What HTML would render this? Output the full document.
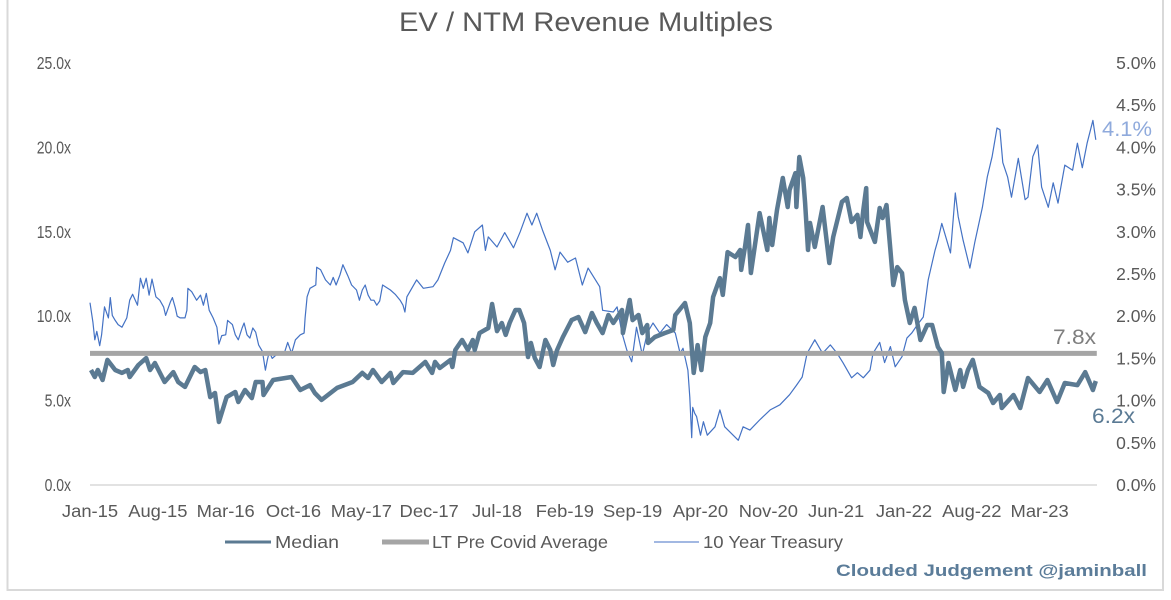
<!DOCTYPE html>
<html lang="en">
<head>
<meta charset="utf-8">
<title>EV / NTM Revenue Multiples</title>
<style>
html,body{margin:0;padding:0;background:#fff;width:1171px;height:600px;overflow:hidden}
svg{display:block;font-family:"Liberation Sans",Arial,sans-serif}
</style>
</head>
<body>
<svg id="chart" xmlns="http://www.w3.org/2000/svg" width="1171" height="600" viewBox="0 0 1171 600">
  <rect width="1171" height="600" fill="#fff"/>
  <path d="M7.5 0V590H1163V0" fill="none" stroke="#d9d9d9" stroke-width="2"/>
  <text x="399" y="31" font-size="27" fill="#595959" textLength="374" lengthAdjust="spacingAndGlyphs">EV / NTM Revenue Multiples</text>
  <g id="axes"></g>
  <g id="series"></g>
  <text x="1102" y="136" font-size="21" fill="#8faadc" textLength="50" lengthAdjust="spacingAndGlyphs">4.1%</text>
  <text x="1053" y="344" font-size="21" fill="#7f7f7f" textLength="43" lengthAdjust="spacingAndGlyphs">7.8x</text>
  <text x="1092" y="423" font-size="21" fill="#5a7a94" textLength="43" lengthAdjust="spacingAndGlyphs">6.2x</text>
  <g>
    <line x1="225" x2="271" y1="542" y2="542" stroke="#5b7a92" stroke-width="3"/>
    <text x="275" y="548" font-size="17.5" fill="#595959" textLength="64" lengthAdjust="spacingAndGlyphs">Median</text>
    <line x1="382" x2="429" y1="542" y2="542" stroke="#a5a5a5" stroke-width="5"/>
    <text x="432" y="548" font-size="17.5" fill="#595959" textLength="176" lengthAdjust="spacingAndGlyphs">LT Pre Covid Average</text>
    <line x1="654" x2="699" y1="542" y2="542" stroke="#4472c4" stroke-width="1"/>
    <text x="703" y="548" font-size="17.5" fill="#595959" textLength="140" lengthAdjust="spacingAndGlyphs">10 Year Treasury</text>
  </g>
  <text x="836" y="576" font-size="17" font-weight="bold" fill="#5b7c99" textLength="311" lengthAdjust="spacingAndGlyphs">Clouded Judgement @jaminball</text>
</svg>
<script>
var xTickLabels = ["Jan-15","Aug-15","Mar-16","Oct-16","May-17","Dec-17","Jul-18","Feb-19","Sep-19","Apr-20","Nov-20","Jun-21","Jan-22","Aug-22","Mar-23"];
var leftTicks = [0,5,10,15,20,25];
var rightTicks = [0,0.5,1,1.5,2,2.5,3,3.5,4,4.5,5];
var averageValue = 7.8;
var lastMonth = 103.9;

var medianMonths = [0.1,0.5,0.8,1.3,1.8,2.6,3.3,3.9,4.1,5.0,5.8,6.2,6.7,7.7,8.6,9.1,9.8,10.8,11.4,11.9,12.4,12.9,13.3,14.1,15.0,15.3,16.0,16.7,17.1,17.8,17.9,18.9,20.8,21.7,22.7,23.2,23.9,25.5,27.1,28.1,28.7,29.2,30.1,31.0,31.3,32.3,33.3,34.6,35.3,35.6,36.1,37.2,37.4,37.7,38.4,39.0,39.5,39.7,40.2,41.1,41.5,42.0,42.5,42.9,43.3,43.9,44.3,44.8,45.2,45.5,45.9,46.4,47.0,47.5,47.8,48.2,48.8,49.7,50.4,51.1,51.8,52.3,52.9,53.5,54.0,54.9,55.0,55.7,56.0,56.6,57.0,57.5,57.6,58.3,59.3,60.2,60.4,61.4,61.9,62.3,62.7,63.1,63.5,64.0,64.3,65.0,65.3,65.8,66.6,67.1,67.2,67.6,67.9,68.2,69.1,69.9,70.1,70.4,70.9,71.5,72.0,72.2,72.8,72.9,73.2,73.6,73.8,74.1,74.3,74.8,75.6,76.3,76.7,77.6,78.1,78.6,79.2,79.5,79.8,80.1,80.2,81.0,81.5,81.8,82.2,82.6,82.9,83.3,83.8,84.1,84.6,85.1,85.7,86.4,86.9,87.5,87.9,88.1,88.6,89.3,89.8,90.1,90.6,91.1,91.8,92.7,93.2,93.9,94.1,95.3,96.0,96.8,98.0,98.8,99.8,100.6,101.9,102.7,103.5,103.8];
var medianValues = [6.81,6.40,6.81,6.22,7.41,6.81,6.64,6.81,6.40,7.11,7.52,6.81,7.23,6.10,6.69,6.10,5.81,6.99,6.69,6.81,5.21,5.45,3.73,5.21,5.51,4.92,5.63,5.15,6.10,6.10,5.33,6.22,6.40,5.63,5.92,5.45,5.04,5.75,6.10,6.64,6.34,6.81,6.10,6.64,6.04,6.69,6.64,7.29,6.64,7.29,6.93,7.41,6.99,8.00,8.59,8.00,8.59,8.00,9.00,9.30,10.72,9.12,9.60,8.89,9.60,10.37,10.37,9.60,7.58,8.41,7.52,6.99,8.59,8.00,7.11,8.00,8.77,9.77,9.95,9.06,10.19,9.60,9.00,10.07,9.60,10.37,9.00,10.96,9.77,10.07,9.00,9.48,8.41,8.77,9.00,9.18,10.07,10.78,9.60,6.64,8.29,6.81,8.77,9.60,11.14,12.26,11.26,13.80,13.51,13.92,12.74,14.10,15.40,12.56,16.11,13.92,15.82,14.22,16.29,18.19,16.47,17.48,18.48,16.47,19.43,18.19,16.71,13.92,15.52,14.10,16.47,13.15,14.69,16.77,17.00,15.58,16.00,14.69,16.29,17.59,15.58,14.40,16.41,15.82,16.59,13.92,11.85,12.91,12.56,10.96,9.60,10.49,8.59,9.48,9.48,8.18,7.82,5.51,7.23,5.63,6.81,5.81,6.81,7.41,5.81,5.45,4.86,5.33,4.56,5.33,4.56,6.34,5.51,6.22,4.92,6.04,5.92,6.69,5.63,6.16];

var treasuryMonths = [0,0.3,0.5,0.7,1.0,1.2,1.5,1.9,2.1,2.3,2.6,2.9,3.3,3.8,4.1,4.4,4.9,5.2,5.5,5.8,6.1,6.4,6.8,7.2,7.6,7.8,8.3,8.5,8.8,9.0,9.3,9.8,10.0,10.1,10.5,11.0,11.4,11.7,12.0,12.3,12.7,13.1,13.3,13.6,14.0,14.2,14.7,15.0,15.3,15.7,15.9,16.2,16.5,16.8,17.1,17.4,17.8,18.1,18.3,18.5,18.8,19.2,19.6,20.1,20.4,20.8,21.2,21.7,22.1,22.2,22.4,22.7,23.3,23.4,23.8,24.3,24.8,25.1,25.4,25.8,26.1,26.6,27.0,27.5,27.8,28.1,28.4,28.7,29.0,29.3,29.6,29.9,30.2,31.0,31.5,32.0,32.3,32.5,32.7,33.7,34.4,35.4,35.9,36.6,37.2,37.5,38.5,39.0,39.7,40.5,40.8,41.1,42.0,42.8,43.7,44.4,45.1,45.6,46.1,46.7,47.5,48.0,48.5,49.3,50.1,50.8,51.4,52.6,52.9,54.0,54.4,54.9,55.4,55.9,56.4,57.0,57.5,58.1,58.8,59.5,60.4,60.9,61.2,61.7,61.9,62.1,62.2,62.4,62.6,63.0,63.3,63.7,64.5,65.0,65.5,66.9,67.4,68.1,69.1,70.2,71.2,72.2,72.9,73.5,74.0,74.8,75.6,76.4,77.1,77.7,78.6,79.2,79.8,80.5,80.8,81.5,82.0,82.6,83.1,83.8,84.3,84.8,85.4,86.0,86.5,87.2,87.5,87.9,88.8,89.3,89.6,90.1,90.8,91.3,92.1,92.6,93.1,93.6,93.9,94.2,94.7,95.1,95.8,96.5,96.8,97.3,97.8,98.2,98.9,99.4,99.9,100.6,101.4,101.9,102.4,102.9,103.5,103.8];
var treasuryValues = [2.16,1.93,1.72,1.82,1.65,1.78,2.11,1.98,2.22,2.01,1.95,1.90,1.87,1.98,2.19,2.26,2.13,2.45,2.33,2.45,2.25,2.44,2.23,2.19,2.11,2.01,2.17,2.22,2.10,2.00,1.98,1.98,2.07,2.33,2.29,2.19,2.25,2.13,2.27,2.07,1.98,1.87,1.67,1.77,1.78,1.95,1.90,1.78,1.72,1.86,1.92,1.78,1.74,1.86,1.81,1.66,1.58,1.36,1.48,1.58,1.50,1.54,1.55,1.58,1.69,1.56,1.72,1.78,1.80,1.98,2.23,2.33,2.37,2.58,2.55,2.43,2.37,2.46,2.37,2.49,2.61,2.48,2.37,2.31,2.19,2.31,2.37,2.25,2.19,2.19,2.13,2.18,2.37,2.31,2.26,2.19,2.13,2.05,2.23,2.43,2.33,2.35,2.43,2.63,2.78,2.93,2.87,2.75,3.00,3.08,2.78,2.94,2.82,2.99,2.81,3.00,3.22,3.08,3.22,3.02,2.78,2.55,2.76,2.64,2.69,2.37,2.57,2.35,2.07,2.05,2.11,1.80,1.60,1.46,1.87,1.54,1.80,1.92,1.80,1.90,1.80,1.56,1.62,1.36,1.04,0.56,0.92,0.85,0.81,0.59,0.75,0.59,0.69,0.89,0.69,0.53,0.69,0.65,0.77,0.89,0.95,1.07,1.18,1.28,1.56,1.72,1.56,1.66,1.56,1.45,1.27,1.33,1.27,1.36,1.56,1.69,1.45,1.64,1.40,1.52,1.74,1.80,1.90,1.99,2.43,2.78,2.90,3.10,2.75,3.46,3.18,2.90,2.57,2.87,3.29,3.65,3.89,4.23,4.21,3.82,3.65,3.41,3.87,3.38,3.41,3.89,4.03,3.53,3.29,3.58,3.34,3.79,3.73,4.05,3.76,4.05,4.32,4.09];

var NS = "http://www.w3.org/2000/svg";
var plotLeft = 90, plotRight = 1097, plotTop = 63, plotBottom = 485;
var monthsPerTick = 7;
var monthPx = 9.69;

function xScale(month) { return plotLeft + month * monthPx; }
function yLeft(v) { return plotBottom - v / 25 * (plotBottom - plotTop); }
function yRight(p) { return plotBottom - p / 5 * (plotBottom - plotTop); }

function linePath(months, values, yFn) {
  return months.map(function (m, i) {
    return (i ? "L" : "M") + xScale(m).toFixed(1) + " " + yFn(values[i]).toFixed(1);
  }).join("");
}

function tickText(parent, str, x, y, anchor, sx) {
  var t = document.createElementNS(NS, "text");
  t.setAttribute("transform", "translate(" + x + " " + y + ") scale(" + sx + " 1)");
  t.setAttribute("text-anchor", anchor);
  t.setAttribute("font-size", "17.5");
  t.setAttribute("fill", "#595959");
  t.textContent = str;
  parent.appendChild(t);
  return t;
}

var axes = document.getElementById("axes");
var baseline = document.createElementNS(NS, "line");
baseline.setAttribute("x1", plotLeft);
baseline.setAttribute("x2", plotRight);
baseline.setAttribute("y1", plotBottom);
baseline.setAttribute("y2", plotBottom);
baseline.setAttribute("stroke", "#d9d9d9");
baseline.setAttribute("stroke-width", "1.5");


axes.appendChild(baseline);

leftTicks.forEach(function (v) {
  var t = tickText(axes, v.toFixed(1) + "x", 71, yLeft(v) + 6, "end", 0.8);
  
  
});
rightTicks.forEach(function (p) {
  var t = tickText(axes, p.toFixed(1) + "%", 1156, yRight(p) + 6, "end", 1);
  
  
});
xTickLabels.forEach(function (s, i) {
  var t = tickText(axes, s, xScale(i * monthsPerTick), 517, "middle", 1.05);
  
  
});

var series = document.getElementById("series");

var treasury = document.createElementNS(NS, "path");
treasury.setAttribute("d", linePath(treasuryMonths, treasuryValues, yRight));
treasury.setAttribute("fill", "none");
treasury.setAttribute("stroke", "#4472c4");
treasury.setAttribute("stroke-width", "1.2");
treasury.setAttribute("stroke-linejoin", "round");


series.appendChild(treasury);

var avg = document.createElementNS(NS, "line");
avg.setAttribute("x1", xScale(0));
avg.setAttribute("x2", xScale(lastMonth));
avg.setAttribute("y1", yLeft(averageValue));
avg.setAttribute("y2", yLeft(averageValue));
avg.setAttribute("stroke", "#a5a5a5");
avg.setAttribute("stroke-width", "5");


series.appendChild(avg);

var median = document.createElementNS(NS, "path");
median.setAttribute("d", linePath(medianMonths, medianValues, yLeft));
median.setAttribute("fill", "none");
median.setAttribute("stroke", "#5b7a92");
median.setAttribute("stroke-width", "4.5");
median.setAttribute("stroke-linejoin", "round");


series.appendChild(median);
</script>
</body>
</html>
